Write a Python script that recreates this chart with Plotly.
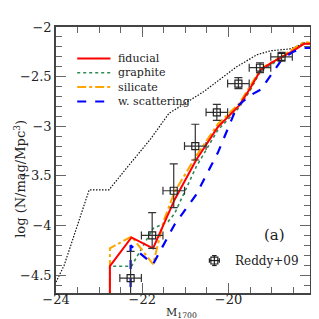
import plotly.graph_objects as go

# ---------------- data ----------------
black_x = [-24.0, -23.81, -23.23, -22.77, -22.38, -21.81, -21.38, -20.77, -20.57, -19.81, -19.34, -19.03, -18.57, -18.27, -18.1]
black_y = [-4.57, -4.40, -3.64, -3.64, -3.43, -3.13, -2.87, -2.71, -2.65, -2.40, -2.28, -2.24, -2.22, -2.17, -2.17]

fid_x = [-22.75, -22.75, -22.25, -21.75, -21.25, -20.75, -20.25, -19.75, -19.5, -19.25, -19.0, -18.75, -18.5, -18.25, -18.1]
fid_y = [-4.80, -4.41, -4.12, -4.23, -3.74, -3.34, -3.01, -2.79, -2.62, -2.43, -2.36, -2.30, -2.24, -2.17, -2.17]

gra_x = [-22.75, -22.75, -22.25, -21.75, -21.4, -21.25, -20.75, -20.25, -19.75, -19.5, -19.25, -18.75, -18.25, -18.1]
gra_y = [-4.80, -4.41, -4.41, -4.03, -3.96, -3.88, -3.41, -3.04, -2.81, -2.64, -2.44, -2.31, -2.16, -2.17]

sil_x = [-22.75, -22.75, -22.25, -21.75, -21.5, -21.25, -20.75, -20.25, -19.75, -19.5, -19.25, -18.75, -18.25, -18.1]
sil_y = [-4.80, -4.23, -4.11, -4.39, -3.95, -3.66, -3.30, -2.98, -2.77, -2.60, -2.42, -2.29, -2.15, -2.16]

sca_x = [-22.27, -22.27, -21.75, -21.25, -20.75, -20.25, -19.8, -19.5, -19.25, -19.0, -18.75, -18.5, -18.25, -18.1]
sca_y = [-4.80, -4.20, -4.39, -3.99, -3.69, -3.27, -2.80, -2.69, -2.63, -2.47, -2.32, -2.25, -2.21, -2.21]

obs_x = [-22.27, -21.77, -21.27, -20.77, -20.27, -19.77, -19.27, -18.77]
obs_y = [-4.53, -4.10, -3.65, -3.20, -2.86, -2.57, -2.41, -2.30]
obs_err_up = [0.27, 0.23, 0.27, 0.22, 0.08, 0.06, 0.05, 0.045]
obs_err_dn = [0.50, 0.13, 0.17, 0.14, 0.08, 0.05, 0.05, 0.045]
obs_xerr = [0.25] * 8

legend_labels = ["fiducial", "graphite", "silicate", "w. scattering"]
legend_colors = ["#ff0000", "#2e8b57", "#ffa500", "#0000ff"]
legend_dash = ["solid", "dot", "dashdot", "dash"]
legend_width = [2, 1.6, 2, 2.2]

x_ticks = [-24, -22, -20]
y_ticks = [-4.5, -4, -3.5, -3, -2.5, -2]

FONT = "DejaVu Serif"

fig = go.Figure()

fig.add_trace(go.Scatter(x=black_x, y=black_y, mode="lines",
                         line=dict(color="#111", width=1.2, dash="1.5px,1.5px"), showlegend=False))
series = [(fid_x, fid_y), (gra_x, gra_y), (sil_x, sil_y), (sca_x, sca_y)]
order = [1, 2, 0, 3]
for i in order:
    sx, sy = series[i]
    fig.add_trace(go.Scatter(x=sx, y=sy, mode="lines",
                             line=dict(color=legend_colors[i], width=legend_width[i], dash=legend_dash[i]),
                             showlegend=False))

fig.add_trace(go.Scatter(
    x=obs_x, y=obs_y, mode="markers",
    marker=dict(symbol="square-open", size=7, color="#222", line=dict(width=1.2, color="#222")),
    error_y=dict(type="data", symmetric=False, array=obs_err_up, arrayminus=obs_err_dn,
                 color="#333", thickness=1.2, width=4),
    error_x=dict(type="data", array=obs_xerr, color="#333", thickness=1.2, width=4),
    showlegend=False))

# ---------------- custom legend ----------------
shapes = []
annotations = []
x0, x1, xt = 0.0835, 0.2145, 0.2365
rows = [0.882, 0.828, 0.774, 0.720]
for lab, col, dsh, w, yy in zip(legend_labels, legend_colors, legend_dash, legend_width, rows):
    shapes.append(dict(type="line", xref="paper", yref="paper", x0=x0, x1=x1, y0=yy, y1=yy,
                       line=dict(color=col, width=w, dash=dsh)))
    annotations.append(dict(xref="paper", yref="paper", x=xt, y=yy, text=lab, showarrow=False,
                            xanchor="left", yanchor="middle", font=dict(family=FONT, size=11, color="#222")))

# Reddy+09 key
cx, cy = 0.6235, 0.122
sqx, sqy = 0.0137, 0.013
ex, ey = 0.0196, 0.0187
capx, capy = 0.009, 0.0085
kc = "#222"
shapes += [
    dict(type="rect", xref="paper", yref="paper", x0=cx - sqx, x1=cx + sqx, y0=cy - sqy, y1=cy + sqy,
         line=dict(color=kc, width=1.2)),
    dict(type="line", xref="paper", yref="paper", x0=cx - ex, x1=cx + ex, y0=cy, y1=cy, line=dict(color=kc, width=1.2)),
    dict(type="line", xref="paper", yref="paper", x0=cx, x1=cx, y0=cy - ey, y1=cy + ey, line=dict(color=kc, width=1.2)),
    dict(type="line", xref="paper", yref="paper", x0=cx - ex, x1=cx - ex, y0=cy - capy, y1=cy + capy, line=dict(color=kc, width=1.2)),
    dict(type="line", xref="paper", yref="paper", x0=cx + ex, x1=cx + ex, y0=cy - capy, y1=cy + capy, line=dict(color=kc, width=1.2)),
    dict(type="line", xref="paper", yref="paper", x0=cx - capx, x1=cx + capx, y0=cy - ey, y1=cy - ey, line=dict(color=kc, width=1.2)),
    dict(type="line", xref="paper", yref="paper", x0=cx - capx, x1=cx + capx, y0=cy + ey, y1=cy + ey, line=dict(color=kc, width=1.2)),
]
annotations.append(dict(xref="paper", yref="paper", x=0.698, y=cy, text="Reddy+09", showarrow=False,
                        xanchor="left", yanchor="middle", font=dict(family=FONT, size=12, color="#222")))
annotations.append(dict(xref="paper", yref="paper", x=0.862, y=0.2175, text="(a)", showarrow=False,
                        xanchor="center", yanchor="middle", font=dict(family=FONT, size=15, color="#222")))

# axis titles
annotations.append(dict(xref="paper", yref="paper", x=0.495, y=-0.108, text="M<sub>1700</sub>", showarrow=False,
                        xanchor="center", yanchor="bottom", font=dict(family=FONT, size=11, color="#222")))
annotations.append(dict(xref="paper", yref="paper", x=-0.145, y=0.43, text="log (N/mag/Mpc<sup>3</sup>)",
                        showarrow=False, textangle=-90, xanchor="center", yanchor="middle",
                        font=dict(family=FONT, size=13, color="#222")))

axis_common = dict(showgrid=False, zeroline=False, showline=True, linecolor="#444", linewidth=1.5,
                   mirror="allticks", ticks="inside", ticklen=10, tickwidth=1, tickcolor="#666",
                   tickfont=dict(family=FONT, size=13, color="#222"))

fig.update_layout(
    width=319, height=319,
    margin=dict(l=47, r=17, t=17, b=34),
    paper_bgcolor="white", plot_bgcolor="white",
    shapes=shapes, annotations=annotations,
    xaxis=dict(range=[-24, -18.11], tickvals=x_ticks, ticktext=[f"\u2212{abs(v)}" for v in x_ticks],
               ticklabelstandoff=-6,
               minor=dict(dtick=0.5, tick0=-24, ticks="inside", ticklen=6, tickcolor="#666", tickwidth=1),
               **axis_common),
    yaxis=dict(range=[-4.68, -2], tickvals=y_ticks,
               ticktext=[("\u2212" + (f"{abs(v):g}")) for v in y_ticks],
               minor=dict(dtick=0.1, tick0=-2, ticks="inside", ticklen=6, tickcolor="#666", tickwidth=1),
               **axis_common),
)

fig.write_html("out.html")
